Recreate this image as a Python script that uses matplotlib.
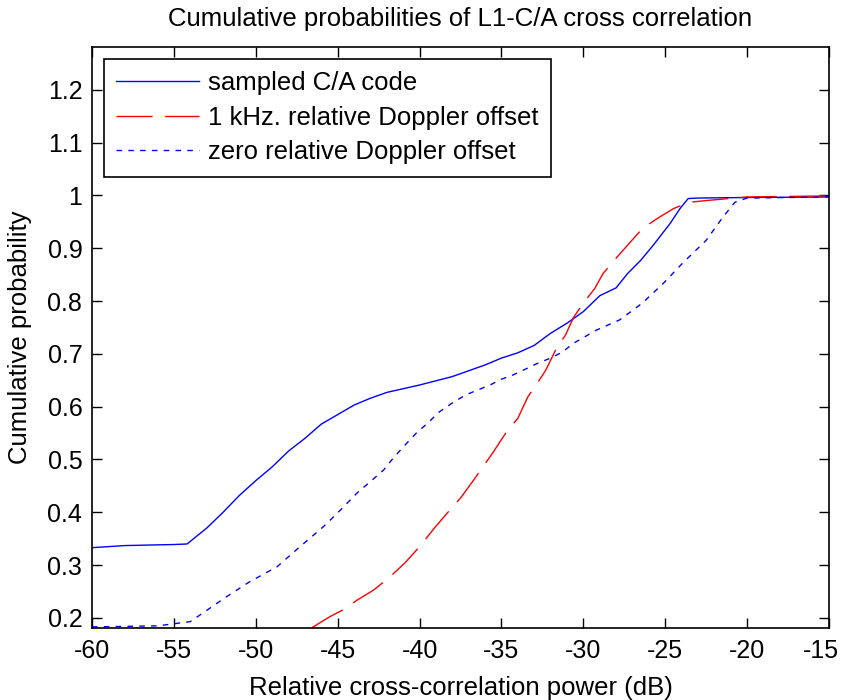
import numpy as np
import matplotlib
matplotlib.use("Agg")
import matplotlib.pyplot as plt
from matplotlib.transforms import ScaledTranslation

plt.rcParams['font.family'] = ['Liberation Sans', 'DejaVu Sans']
plt.rcParams['axes.unicode_minus'] = False

# sampled C/A code (solid blue)
ca_x = [-60, -58, -55, -54.2, -53, -52, -51, -50, -49, -48, -47, -46, -45, -44, -43,
        -42, -41, -40, -39, -38, -37, -36, -35, -34, -33, -32, -31, -30, -29, -28,
        -27.3, -26.5, -25.75, -24.7, -24.1, -23.6, -23, -20, -15]
ca_y = [0.333, 0.337, 0.339, 0.340, 0.37, 0.40, 0.432, 0.46, 0.486, 0.516, 0.54, 0.567,
        0.585, 0.603, 0.616, 0.627, 0.634, 0.641, 0.649, 0.657, 0.668, 0.679, 0.692,
        0.702, 0.716, 0.739, 0.758, 0.78, 0.81, 0.825, 0.852, 0.877, 0.905, 0.947,
        0.975, 0.994, 0.995, 0.996, 0.997]

# 1 kHz relative Doppler offset (red dashed)
khz_x = [-46.6, -45.5, -44.7, -43.8, -42.8, -41.8, -40.9, -40.0, -39.1, -38.3, -37.5,
         -36.7, -35.5, -34.7, -34.0, -33.4, -32.8, -32.3, -31.6, -31.1, -30.6, -30.0,
         -29.3, -28.8, -27.95, -27.15, -26.4, -25.5, -24.5, -23.5, -22.6, -20, -15]
khz_y = [0.181, 0.202, 0.215, 0.234, 0.253, 0.278, 0.304, 0.335, 0.37, 0.399, 0.427,
         0.461, 0.514, 0.552, 0.578, 0.618, 0.645, 0.669, 0.713, 0.735, 0.769, 0.796,
         0.824, 0.852, 0.883, 0.911, 0.937, 0.956, 0.975, 0.987, 0.99, 0.997, 0.999]

# zero relative Doppler offset (blue dotted)
zero_x = [-60, -56, -55, -54, -53.2, -51.8, -50.4, -48.7, -47.3, -45.9, -45.0, -43.8,
          -42.9, -42.2, -41.6, -40.9, -40.2, -39.5, -38.8, -38.0, -37.2, -36.5, -35.7,
          -35.0, -34.3, -33.4, -32.8, -32.0, -31.3, -30.6, -29.2, -27.8, -26.4, -25.1,
          -23.9, -22.5, -21.5, -20.75, -20, -15]
zero_y = [0.183, 0.185, 0.189, 0.193, 0.21, 0.24, 0.268, 0.297, 0.335, 0.372, 0.399,
          0.437, 0.461, 0.48, 0.503, 0.527, 0.55, 0.569, 0.59, 0.607, 0.622, 0.631,
          0.641, 0.652, 0.66, 0.673, 0.682, 0.692, 0.703, 0.72, 0.745, 0.764, 0.796,
          0.834, 0.873, 0.915, 0.958, 0.987, 0.995, 0.997]

x_ticks = [-60, -55, -50, -45, -40, -35, -30, -25, -20, -15]
y_ticks = [0.2, 0.3, 0.4, 0.5, 0.6, 0.7, 0.8, 0.9, 1, 1.1, 1.2]
y_labels = ['0.2', '0.3', '0.4', '0.5', '0.6', '0.7', '0.8', '0.9', '1', '1.1', '1.2']

fig = plt.figure(figsize=(8.42, 7.0), dpi=100)
ax = fig.add_axes([0.1093, 0.1029, 0.8753, 0.830])

ax.plot(ca_x, ca_y, color='#0000ff', lw=1.0, label='sampled C/A code')
ax.plot(khz_x, khz_y, color='#ff0000', lw=1.0, dashes=(26, 9),
        label='1 kHz. relative Doppler offset')
ax.plot(zero_x, zero_y, color='#0000ff', lw=1.0, dashes=(4, 4.5),
        label='zero relative Doppler offset')

ax.set_xlim(-60, -15)
ax.set_ylim(0.181, 1.281)
ax.set_xticks(x_ticks)
ax.set_yticks(y_ticks)
ax.set_yticklabels(y_labels)
ax.tick_params(direction='in', length=7, width=1, top=True, right=True,
               labelsize=18)
ax.tick_params(axis='x', pad=8)
ax.tick_params(axis='y', pad=7)
for s in ax.spines.values():
    s.set_linewidth(1.2)

# last x label sits a bit left so it stays inside the figure
last = ax.get_xticklabels()[-1]
last.set_transform(last.get_transform() + ScaledTranslation(-0.08, 0, fig.dpi_scale_trans))

ax.set_title('Cumulative probabilities of L1-C/A cross correlation', fontsize=18.5, pad=15)
ax.set_xlabel('Relative cross-correlation power (dB)', fontsize=18.5, labelpad=9)
ax.set_ylabel('Cumulative probability', fontsize=18.5, labelpad=11)

leg = ax.legend(loc='upper left', fontsize=18.5, frameon=True, fancybox=False,
                edgecolor='black', framealpha=1, handlelength=3.2,
                labelspacing=0.41, borderaxespad=0.45, borderpad=0.5,
                handletextpad=0.35)
leg.get_frame().set_linewidth(1.2)

fig.savefig('out.png', dpi=100)
